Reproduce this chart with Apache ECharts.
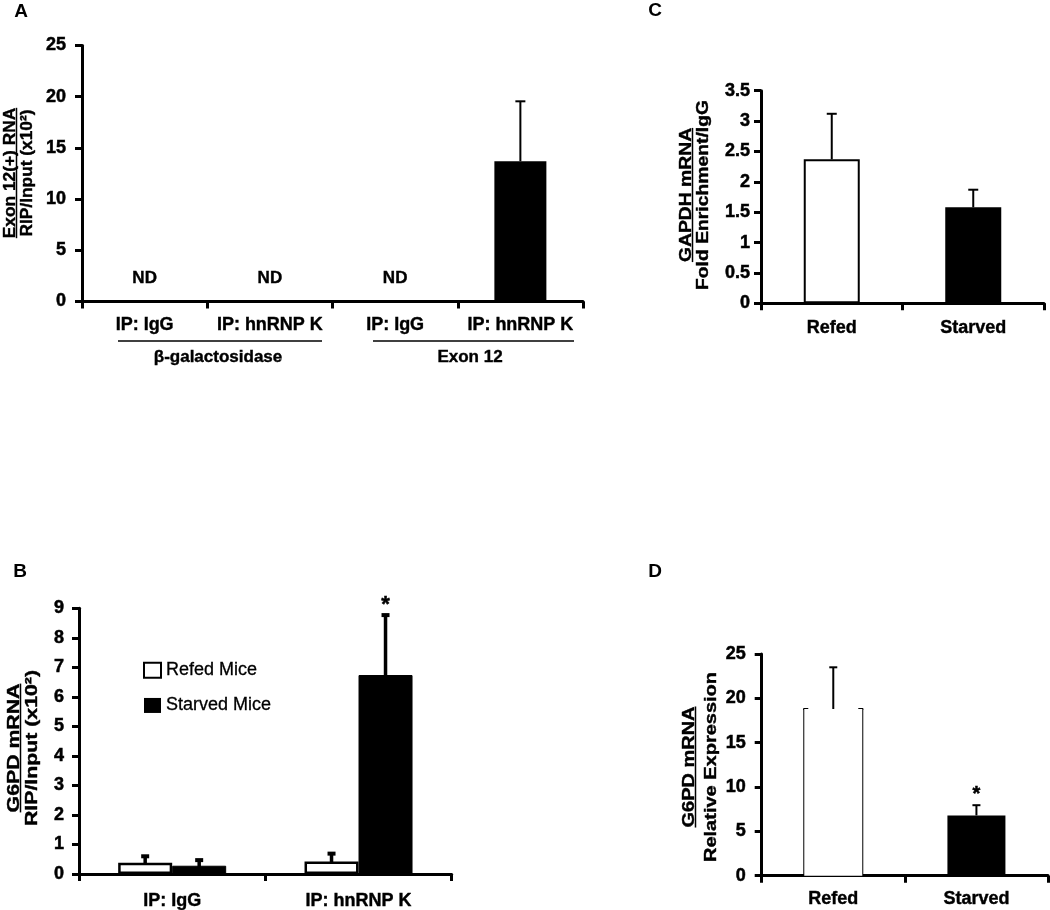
<!DOCTYPE html>
<html>
<head>
<meta charset="utf-8">
<script src="https://cdn.jsdelivr.net/npm/echarts@6/dist/echarts.min.js"></script>
<style>html,body{margin:0;padding:0;background:#fff}#c{width:1050px;height:910px}</style>
</head>
<body>
<div id="c"></div>
<script>
// ---------- Data ----------
const aCategories = ['IP: IgG', 'IP: hnRNP K', 'IP: IgG', 'IP: hnRNP K'];
const aValues = [null, null, null, 13.7];
const aErrors = [null, null, null, 5.85];
const aNotes = ['ND', 'ND', 'ND', ''];
const aGroups = ['β-galactosidase', 'Exon 12'];

const bCategories = ['IP: IgG', 'IP: hnRNP K'];
const bSeriesNames = ['Refed Mice', 'Starved Mice'];
const bRefed = [0.38, 0.42];
const bRefedErr = [0.22, 0.27];
const bStarved = [0.28, 6.74];
const bStarvedErr = [0.19, 2.03];
const bStarvedStar = [0, 1];

const cCategories = ['Refed', 'Starved'];
const cValues = [2.37, 1.58];
const cErrors = [0.75, 0.29];

const dCategories = ['Refed', 'Starved'];
const dValues = [18.8, 6.8];
const dErrors = [4.7, 1.15];
const dStars = [0, 1];

// ---------- Helpers ----------
const FONT = "'Liberation Sans', Arial, Helvetica, sans-serif";
const ctx = document.createElement('canvas').getContext('2d');
function measure(t, f) { ctx.font = f; return ctx.measureText(t).width; }

function txt(text, x, y, f, align, valign, heavy) {
  const s = { text, x, y, font: f, fill: '#000',
    align: align, verticalAlign: valign, textAlign: align, textVerticalAlign: valign };
  if (heavy) { s.stroke = '#000'; s.lineWidth = heavy; s.textStroke = '#000'; s.textStrokeWidth = heavy; }
  return s;
}

function rotTitle(l1, l2, ux, cy, target, gap2) {
  const f = 'bold 17px ' + FONT;
  const w1 = measure(l1, f), w2 = measure(l2, f);
  const s = target / w2;
  return {
    type: 'group', x: ux, y: cy, rotation: Math.PI / 2, scaleX: s, scaleY: 1, silent: true,
    children: [
      { type: 'text', style: txt(l1, 0, 3, f, 'center', 'bottom', 0.4) },
      { type: 'line', shape: { x1: -w1 / 2, y1: 0.5, x2: w1 / 2, y2: 0.5 }, style: { stroke: '#000', lineWidth: 1.5 } },
      { type: 'text', style: txt(l2, 0, gap2, f, 'center', 'top', 0.4) }
    ]
  };
}

function errRender(offset, capW, lw, both, capLw, starSize) {
  return function (params, api) {
    const i = api.value(0), m = api.value(1), e = api.value(2), star = api.value(3);
    const top = api.coord([i, m + e]);
    const bot = api.coord([i, both ? m - e : m]);
    const cx = top[0] + offset;
    const kids = [
      { type: 'line', shape: { x1: cx, y1: bot[1], x2: cx, y2: top[1] }, style: { stroke: '#000', lineWidth: lw } },
      { type: 'line', shape: { x1: cx - capW / 2, y1: top[1], x2: cx + capW / 2, y2: top[1] }, style: { stroke: '#000', lineWidth: capLw } }
    ];
    if (both) kids.push({ type: 'line', shape: { x1: cx - capW / 2, y1: bot[1], x2: cx + capW / 2, y2: bot[1] }, style: { stroke: '#000', lineWidth: capLw } });
    if (star) kids.push({ type: 'text', style: txt('*', cx, top[1] - 21, 'bold ' + starSize + 'px ' + FONT, 'center', 'top', 0.5) });
    return { type: 'group', children: kids };
  };
}

function yAxisCfg(gi, max, interval, margin) {
  return {
    type: 'value', gridIndex: gi, min: 0, max: max, interval: interval,
    axisLine: { show: true, lineStyle: { color: '#000', width: 3 } },
    axisTick: { show: true, length: 7, lineStyle: { color: '#000', width: 3 } },
    axisLabel: { margin: margin, color: '#000', fontSize: 18, fontWeight: 'bold', fontFamily: FONT,
      textBorderColor: '#000', textBorderWidth: 0.5 },
    splitLine: { show: false }
  };
}
function xAxisCfg(gi, data, margin, fs) {
  return {
    type: 'category', gridIndex: gi, data: data,
    axisLine: { show: true, lineStyle: { color: '#000', width: 3 } },
    axisTick: { show: true, length: 7, alignWithLabel: false, lineStyle: { color: '#000', width: 3 } },
    axisLabel: { margin: margin, color: '#000', fontSize: fs, fontWeight: 'bold', fontFamily: FONT, interval: 0,
      textBorderColor: '#000', textBorderWidth: 0.4 },
    splitLine: { show: false }
  };
}

const chart = echarts.init(document.getElementById('c'), null, { renderer: 'canvas', width: 1050, height: 910 });

const letterFont = 'bold 19px ' + FONT;
const labFont = 'bold 17px ' + FONT;

const option = {
  backgroundColor: '#fff',
  animation: false,
  grid: [
    { left: 82, top: 45.5, width: 501, height: 256, outerBoundsMode: 'none', containLabel: false },
    { left: 79, top: 608.3, width: 372.7, height: 265.7, outerBoundsMode: 'none', containLabel: false },
    { left: 761, top: 90.7, width: 283, height: 212.6, outerBoundsMode: 'none', containLabel: false },
    { left: 761.7, top: 654, width: 286.3, height: 221.7, outerBoundsMode: 'none', containLabel: false }
  ],
  xAxis: [
    xAxisCfg(0, aCategories, 15, 18),
    xAxisCfg(1, bCategories, 18, 18),
    xAxisCfg(2, cCategories, 16, 18),
    xAxisCfg(3, dCategories, 14, 18)
  ],
  yAxis: [
    yAxisCfg(0, 25, 5, 16),
    yAxisCfg(1, 9, 1, 15),
    yAxisCfg(2, 3.5, 0.5, 11),
    yAxisCfg(3, 25, 5, 16)
  ],
  legend: {
    data: [
      { name: bSeriesNames[0], icon: 'rect', itemStyle: { color: '#fff', borderColor: '#000', borderWidth: 2 } },
      { name: bSeriesNames[1], icon: 'rect', itemStyle: { color: '#000', borderColor: '#000', borderWidth: 0 } }
    ],
    orient: 'vertical', left: 143, top: 661, itemWidth: 17, itemHeight: 15, itemGap: 17,
    selectedMode: false, padding: 0,
    textStyle: { fontSize: 18, color: '#000', fontFamily: FONT, textBorderColor: '#000', textBorderWidth: 0.3 }
  },
  graphic: [
    { type: 'text', silent: true, style: txt('A', 21, 12, letterFont, 'center', 'middle') },
    { type: 'text', silent: true, style: txt('B', 20, 572, letterFont, 'center', 'middle') },
    { type: 'text', silent: true, style: txt('C', 655, 11, letterFont, 'center', 'middle') },
    { type: 'text', silent: true, style: txt('D', 655, 572, letterFont, 'center', 'middle') },
    rotTitle('Exon 12(+) RNA', 'RIP/Input (x10²)', 16, 173, 127, 3),
    rotTitle('G6PD mRNA', 'RIP/Input (x10²)', 20, 748, 156, 4),
    rotTitle('GAPDH mRNA', 'Fold Enrichment/IgG', 692, 195, 190, 3),
    rotTitle('G6PD mRNA', 'Relative Expression', 695, 767, 190, 8),
    { type: 'line', silent: true, shape: { x1: 118, y1: 341, x2: 322, y2: 341 }, style: { stroke: '#000', lineWidth: 1.5 } },
    { type: 'line', silent: true, shape: { x1: 373, y1: 341, x2: 574, y2: 341 }, style: { stroke: '#000', lineWidth: 1.5 } },
    { type: 'text', silent: true, style: txt(aGroups[0], 218, 357, labFont, 'center', 'middle', 0.4) },
    { type: 'text', silent: true, style: txt(aGroups[1], 470, 357, labFont, 'center', 'middle', 0.4) }
  ],
  series: [
    // Panel A
    { name: 'A bars', type: 'bar', xAxisIndex: 0, yAxisIndex: 0, data: aValues, barWidth: 52,
      itemStyle: { color: '#000' }, silent: true },
    { name: 'A err', type: 'custom', xAxisIndex: 0, yAxisIndex: 0, silent: true,
      data: aValues.map((v, i) => [i, v, aErrors[i], 0]).filter(d => d[1] != null),
      renderItem: errRender(0, 10, 2, false, 2, 20) },
    { name: 'A notes', type: 'custom', xAxisIndex: 0, yAxisIndex: 0, silent: true,
      data: aNotes.map((t, i) => [i, 0, t]).filter(d => d[2]),
      renderItem: function (params, api) {
        const p = api.coord([api.value(0), 0]);
        return { type: 'text', style: txt(aNotes[api.value(0)], p[0], p[1] - 23, labFont, 'center', 'middle', 0.4) };
      } },
    // Panel B
    { name: bSeriesNames[0], type: 'bar', xAxisIndex: 1, yAxisIndex: 1, data: bRefed, barWidth: 54, barGap: '0%',
      itemStyle: { color: '#fff', borderColor: '#000', borderWidth: 2.5 }, silent: true },
    { name: bSeriesNames[1], type: 'bar', xAxisIndex: 1, yAxisIndex: 1, data: bStarved, barWidth: 54, barGap: '0%',
      itemStyle: { color: '#000', borderColor: '#000', borderWidth: 1 }, silent: true },
    { name: 'B refed err', type: 'custom', xAxisIndex: 1, yAxisIndex: 1, silent: true,
      data: bRefed.map((v, i) => [i, v, bRefedErr[i], 0]),
      renderItem: errRender(-27, 8, 3.5, true, 4, 22) },
    { name: 'B starved err', type: 'custom', xAxisIndex: 1, yAxisIndex: 1, silent: true,
      data: bStarved.map((v, i) => [i, v, bStarvedErr[i], bStarvedStar[i]]),
      renderItem: errRender(27, 8, 3.5, true, 4, 22) },
    // Panel C
    { name: 'C bars', type: 'bar', xAxisIndex: 2, yAxisIndex: 2, barWidth: 56, silent: true,
      data: cValues.map((v, i) => ({ value: v, itemStyle: i === 0 ? { color: '#fff', borderColor: '#000', borderWidth: 2 } : { color: '#000' } })) },
    { name: 'C err', type: 'custom', xAxisIndex: 2, yAxisIndex: 2, silent: true,
      data: cValues.map((v, i) => [i, v, cErrors[i], 0]),
      renderItem: errRender(0, 10, 2, false, 2, 20) },
    // Panel D
    { name: 'D bars', type: 'bar', xAxisIndex: 3, yAxisIndex: 3, barWidth: 58, silent: true,
      data: dValues.map((v, i) => ({ value: v, itemStyle: i === 0 ? { color: '#fff', borderWidth: 0 } : { color: '#000' } })) },
    { name: 'D open sides', type: 'custom', xAxisIndex: 3, yAxisIndex: 3, silent: true,
      data: [[0, dValues[0]]],
      renderItem: function (params, api) {
        const i = api.value(0), v = api.value(1);
        const p0 = api.coord([i, 0]), p1 = api.coord([i, v]);
        const hw = 29;
        return { type: 'group', children: [
          { type: 'line', shape: { x1: p0[0] - hw, y1: p0[1], x2: p1[0] - hw, y2: p1[1] }, style: { stroke: '#000', lineWidth: 2 } },
          { type: 'line', shape: { x1: p0[0] + hw, y1: p0[1], x2: p1[0] + hw, y2: p1[1] }, style: { stroke: '#000', lineWidth: 2 } },
          { type: 'line', shape: { x1: p1[0] - hw - 1, y1: p1[1], x2: p1[0] - hw + 4, y2: p1[1] }, style: { stroke: '#000', lineWidth: 2 } },
          { type: 'line', shape: { x1: p1[0] + hw - 4, y1: p1[1], x2: p1[0] + hw + 1, y2: p1[1] }, style: { stroke: '#000', lineWidth: 2 } }
        ] };
      } },
    { name: 'D err', type: 'custom', xAxisIndex: 3, yAxisIndex: 3, silent: true,
      data: dValues.map((v, i) => [i, v, dErrors[i], dStars[i]]),
      renderItem: errRender(0, 8, 2, false, 2, 20) }
  ]
};
chart.setOption(option);
</script>
</body>
</html>
